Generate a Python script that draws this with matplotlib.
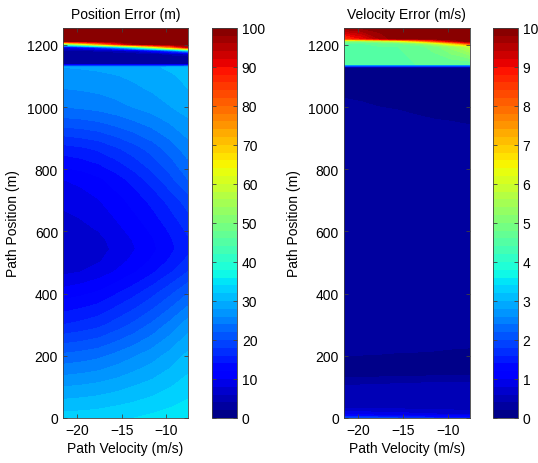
import numpy as np
import matplotlib
matplotlib.use("Agg")
import matplotlib.pyplot as plt

plt.rcParams['font.family'] = ['Liberation Sans', 'DejaVu Sans']
plt.rcParams['font.size'] = 10

# grid
path_velocity = [-21.6, -19.6, -17.6, -15.6, -13.6, -11.6, -9.6, -7.6]
path_position = [0, 100, 200, 300, 400, 470, 505, 543, 575, 610, 700, 768,
                 865, 950, 1000, 1060, 1100, 1128, 1138, 1160, 1172, 1182,
                 1192, 1202, 1212, 1260]

# position error (m), one row per path position
pos_error = [
    [33.0, 33.1, 33.3, 33.7, 34.0, 34.5, 35.0, 35.5],
    [28.0, 28.3, 28.7, 29.3, 30.1, 30.9, 31.9, 33.0],
    [22.5, 22.9, 23.5, 24.6, 25.8, 27.1, 28.7, 30.5],
    [16.0, 16.6, 17.4, 18.9, 20.5, 22.4, 24.6, 27.0],
    [11.0, 11.6, 12.4, 13.9, 15.5, 17.4, 19.6, 22.0],
    [7.5, 8.0, 8.9, 10.2, 11.8, 13.6, 15.7, 18.0],
    [6.5, 7.0, 7.8, 9.1, 10.6, 12.3, 14.3, 16.5],
    [6.0, 6.5, 7.2, 8.5, 9.9, 11.5, 13.4, 15.5],
    [6.3, 6.8, 7.5, 8.8, 10.2, 11.8, 13.7, 15.8],
    [7.0, 7.5, 8.2, 9.5, 10.9, 12.5, 14.4, 16.5],
    [8.5, 9.0, 9.9, 11.2, 12.8, 14.6, 16.7, 19.0],
    [10.0, 10.6, 11.6, 13.1, 14.9, 17.0, 19.4, 22.0],
    [15.0, 15.5, 16.3, 17.6, 19.1, 20.8, 22.8, 25.0],
    [21.0, 21.3, 21.8, 22.7, 23.7, 24.8, 26.1, 27.5],
    [24.0, 24.3, 24.7, 25.3, 26.1, 26.9, 27.9, 29.0],
    [26.0, 26.2, 26.5, 27.0, 27.6, 28.3, 29.1, 30.0],
    [27.0, 27.2, 27.5, 27.9, 28.4, 29.0, 29.7, 30.5],
    [28.0, 28.2, 28.4, 28.8, 29.2, 29.7, 30.3, 31.0],
    [4.0, 4.0, 4.0, 4.0, 4.0, 4.0, 4.0, 4.0],
    [2.0, 2.0, 2.0, 2.0, 2.0, 2.0, 2.0, 2.5],
    [2.5, 2.5, 2.5, 2.8, 3.0, 3.5, 5.0, 7.0],
    [3.5, 4.0, 4.5, 5.5, 8.0, 13.0, 22.0, 35.0],
    [8.0, 12.0, 18.0, 27.0, 40.0, 57.0, 75.0, 92.0],
    [45.0, 58.0, 72.0, 86.0, 97.0, 100.0, 100.0, 100.0],
    [100.0, 100.0, 100.0, 100.0, 100.0, 100.0, 100.0, 100.0],
    [100.0, 100.0, 100.0, 100.0, 100.0, 100.0, 100.0, 100.0],
]

path_position_v = [0, 10, 30, 100, 110, 140, 190, 230, 300, 900, 1000,
                   1100, 1128, 1138, 1195, 1205, 1212, 1220, 1260]

# velocity error (m/s)
vel_error = [
    [2.0, 1.95, 1.9, 1.8, 1.7, 1.6, 1.5, 1.4],
    [1.0, 1.0, 0.95, 0.9, 0.9, 0.85, 0.8, 0.8],
    [0.6, 0.6, 0.6, 0.6, 0.55, 0.55, 0.55, 0.5],
    [0.45, 0.45, 0.45, 0.45, 0.45, 0.45, 0.45, 0.45],
    [0.35, 0.37, 0.39, 0.4, 0.42, 0.43, 0.44, 0.45],
    [0.12, 0.12, 0.13, 0.14, 0.15, 0.16, 0.17, 0.18],
    [0.16, 0.16, 0.15, 0.14, 0.14, 0.13, 0.12, 0.12],
    [0.3, 0.29, 0.28, 0.26, 0.25, 0.24, 0.22, 0.21],
    [0.32, 0.32, 0.32, 0.32, 0.32, 0.32, 0.32, 0.32],
    [0.3, 0.3, 0.3, 0.3, 0.29, 0.28, 0.27, 0.26],
    [0.22, 0.21, 0.2, 0.19, 0.17, 0.15, 0.14, 0.12],
    [0.15, 0.15, 0.15, 0.15, 0.15, 0.15, 0.15, 0.15],
    [0.15, 0.15, 0.15, 0.15, 0.15, 0.15, 0.15, 0.15],
    [4.6, 4.6, 4.6, 4.6, 4.6, 4.6, 4.6, 4.6],
    [4.6, 4.6, 4.6, 4.6, 4.7, 4.9, 5.3, 5.8],
    [4.6, 4.6, 4.7, 4.8, 5.1, 5.8, 7.0, 8.5],
    [5.0, 5.2, 5.5, 6.0, 7.0, 8.2, 9.3, 10.0],
    [8.5, 9.0, 9.6, 10.0, 10.0, 10.0, 10.0, 10.0],
    [10.0, 10.0, 10.0, 10.0, 10.0, 10.0, 10.0, 10.0],
]

pos_ticks = [0, 10, 20, 30, 40, 50, 60, 70, 80, 90, 100]
vel_ticks = [0, 1, 2, 3, 4, 5, 6, 7, 8, 9, 10]

fig = plt.figure(figsize=(5.38, 4.64), dpi=100)

panels = [
    ("Position Error (m)", path_position, pos_error, 100, pos_ticks,
     [0.117, 0.097, 0.232, 0.841], [0.394, 0.097, 0.0465, 0.841]),
    ("Velocity Error (m/s)", path_position_v, vel_error, 10, vel_ticks,
     [0.639, 0.097, 0.234, 0.841], [0.916, 0.097, 0.0465, 0.841]),
]

for title, ys, z, zmax, cticks, ax_rect, cb_rect in panels:
    ax = fig.add_axes(ax_rect)
    levels = np.linspace(0, zmax, 51)
    cs = ax.contourf(path_velocity, ys, np.array(z), levels=levels, cmap='jet')
    ax.set_xlim(-21.6, -7.6)
    ax.set_ylim(0, 1255)
    ax.set_xticks([-20, -15, -10])
    ax.set_yticks([0, 200, 400, 600, 800, 1000, 1200])
    ax.set_title(title, fontsize=10, pad=7)
    ax.set_xlabel("Path Velocity (m/s)", fontsize=10, labelpad=3)
    ax.set_ylabel("Path Position (m)", fontsize=10, labelpad=5)
    ax.tick_params(direction='in', top=True, right=True, length=3, width=0.6,
                   color='#404040', labelsize=10)
    for s in ax.spines.values():
        s.set_color('#404040')
        s.set_linewidth(0.6)

    cax = fig.add_axes(cb_rect)
    cb = fig.colorbar(cs, cax=cax, ticks=cticks)
    cb.ax.tick_params(direction='in', left=True, right=True, length=3, width=0.6,
                      color='#404040', labelsize=10)
    cb.outline.set_edgecolor('#404040')
    cb.outline.set_linewidth(0.6)

plt.savefig("out.png", dpi=100)
